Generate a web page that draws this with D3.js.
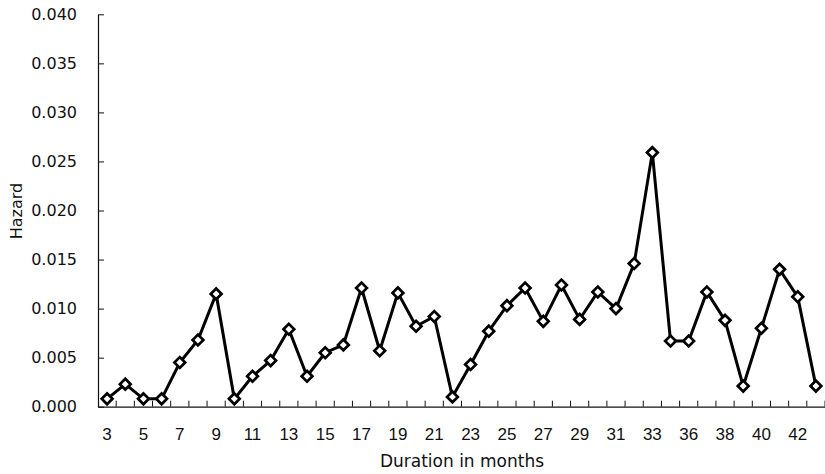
<!DOCTYPE html>
<html>
<head>
<meta charset="utf-8">
<script src="https://cdn.jsdelivr.net/npm/d3@7"></script>
<style>
  html, body { margin: 0; padding: 0; background: #fff; }
  svg { display: block; }
  .tick line { stroke: #111; }
  .domain { stroke: #111; }
</style>
</head>
<body>
<svg></svg>
<script>
// Duration categories (34 and 35 share one slot in the source chart)
const months = ["3","4","5","6","7","8","9","10","11","12","13","14","15","16","17","18",
  "19","20","21","22","23","24","25","26","27","28","29","30","31","32","33","34","36",
  "37","38","39","40","41","42","43"];

// Hazard values
const hazard = [0.0008, 0.0023, 0.0008, 0.0008, 0.0045, 0.0068, 0.0115, 0.0008, 0.0031, 0.0047,
  0.0079, 0.0031, 0.0055, 0.0063, 0.0121, 0.0057, 0.0116, 0.0082, 0.0092, 0.0010,
  0.0043, 0.0077, 0.0103, 0.0121, 0.0087, 0.0124, 0.0089, 0.0117, 0.0100, 0.0146,
  0.0259, 0.0067, 0.0067, 0.0117, 0.0088, 0.0021, 0.0080, 0.0140, 0.0112, 0.0021];

const yTicks = [0, 0.005, 0.010, 0.015, 0.020, 0.025, 0.030, 0.035, 0.040];

const data = months.map((m, i) => ({ month: m, value: hazard[i] }));

const W = 825, H = 474;
const svg = d3.select("svg").attr("width", W).attr("height", H);

// Scales
const x = d3.scaleBand().domain(months).range([98, 825]).padding(0);
const y = d3.scaleLinear().domain([0, 0.04]).range([406.7, 14.3]);

// Y axis, ticks pointing inward
svg.append("g")
    .attr("transform", "translate(98,0)")
    .call(d3.axisLeft(y).tickValues(yTicks).tickFormat(d3.format(".3f"))
        .tickSizeInner(-6).tickSizeOuter(0).tickPadding(21))
    .call(g => g.selectAll("text")
        .style("font-family", "DejaVu Sans, sans-serif")
        .style("font-size", "16px")
        .attr("fill", "#111"))
    .call(g => g.select(".domain").attr("stroke-width", 1.2));

// X axis: labels on every other category
svg.append("g")
    .attr("transform", `translate(0,${y(0)})`)
    .call(d3.axisBottom(x).tickValues(months.filter((d, i) => i % 2 === 0))
        .tickSize(0).tickPadding(21))
    .call(g => g.selectAll("text")
        .style("font-family", "Liberation Sans, Arial, sans-serif")
        .style("font-size", "17px")
        .attr("fill", "#111"))
    .call(g => g.select(".domain").attr("stroke-width", 1.2));

// Category boundary ticks (inward)
svg.append("g")
    .selectAll("line")
    .data(months)
    .join("line")
    .attr("x1", d => x(d) + x.bandwidth())
    .attr("x2", d => x(d) + x.bandwidth())
    .attr("y1", y(0))
    .attr("y2", y(0) - 6)
    .attr("stroke", "#111");

// Axis titles
svg.append("text")
    .attr("x", 462)
    .attr("y", 467)
    .attr("text-anchor", "middle")
    .style("font-family", "DejaVu Sans, sans-serif")
    .style("font-size", "17px")
    .attr("fill", "#111")
    .text("Duration in months");

svg.append("text")
    .attr("transform", "translate(22,211) rotate(-90)")
    .attr("text-anchor", "middle")
    .style("font-family", "DejaVu Sans, sans-serif")
    .style("font-size", "16px")
    .attr("fill", "#111")
    .text("Hazard");

// Line
const line = d3.line()
    .x(d => x(d.month) + x.bandwidth() / 2)
    .y(d => y(d.value));

svg.append("path")
    .datum(data)
    .attr("d", line)
    .attr("fill", "none")
    .attr("stroke", "#000")
    .attr("stroke-width", 3)
    .attr("stroke-linejoin", "miter");

// Diamond markers
const marker = d3.symbol().type(d3.symbolSquare).size(58);
svg.append("g")
    .selectAll("path")
    .data(data)
    .join("path")
    .attr("d", marker)
    .attr("transform", d => `translate(${x(d.month) + x.bandwidth() / 2},${y(d.value)}) rotate(45)`)
    .attr("fill", "#fff")
    .attr("stroke", "#000")
    .attr("stroke-width", 2.7);
</script>
</body>
</html>
